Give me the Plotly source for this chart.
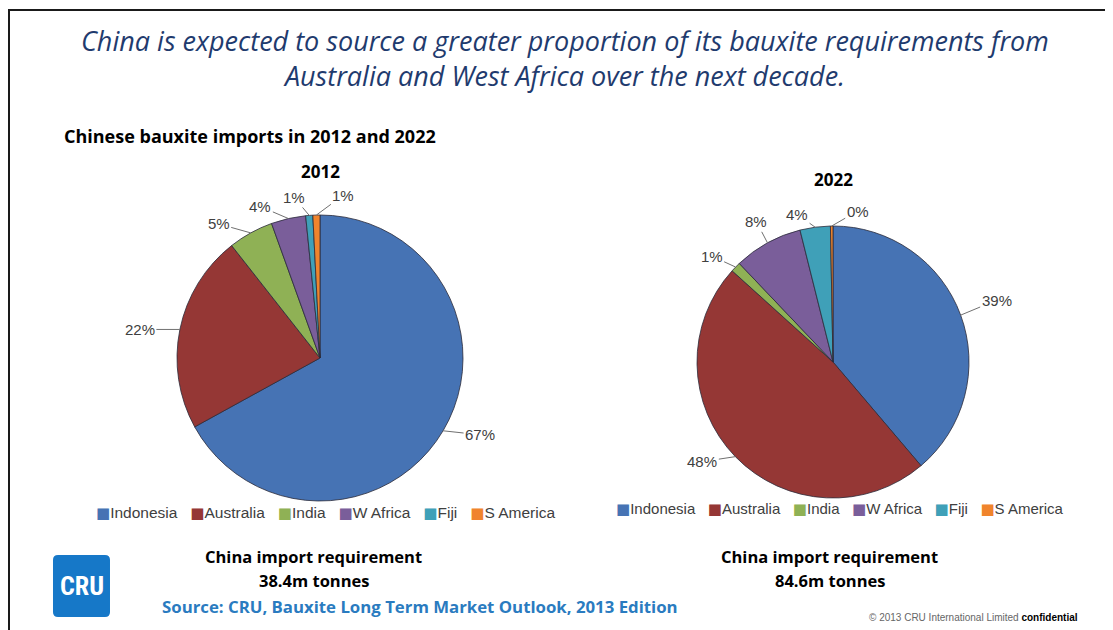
import math
import plotly.graph_objects as go

# ---------------- data ----------------
categories = ["Indonesia", "Australia", "India", "W Africa", "Fiji", "S America"]
share_2012 = [67.0, 22.4, 5.1, 3.9, 0.8, 0.8]
share_2022 = [38.8, 47.9, 1.2, 8.2, 3.6, 0.3]
req_2012 = "38.4m tonnes"
req_2022 = "84.6m tonnes"

colors = ["#4673B4", "#953735", "#8FB155", "#7A5E9A", "#3FA0B8", "#F0842C"]

W, H = 1113, 630
PAGE_OFF = 8  # default body margin of the html page


def X(px):
    return (px - PAGE_OFF) / W


def Y(py):
    return 1 - (py - PAGE_OFF) / H


# pie geometry (pixels on page): centre x, centre y, radius
P1 = (320, 358, 143)
P2 = (833, 362, 136)
# label offsets from slice edge (px) - style only
OFF1 = [(37, 4), (-40, 0), (-32, -9), (-28, -12), (-15, -18), (27, -20)]
OFF2 = [(36, -15), (-33, 5), (-24, -11), (-11, -21), (-18, -13), (26, -15)]


def domain(p):
    cx, cy, r = p
    return dict(x=[X(cx - r), X(cx + r)], y=[Y(cy + r), Y(cy - r)])


fig = go.Figure()
for vals, p in [(share_2012, P1), (share_2022, P2)]:
    fig.add_trace(go.Pie(
        labels=categories, values=vals, sort=False, direction="clockwise", rotation=0,
        marker=dict(colors=colors, line=dict(color="#2b2b3a", width=0.8)),
        textinfo="none", textposition="none", domain=domain(p), showlegend=False,
        hoverinfo="label+percent",
    ))

annotations = []
for vals, p, offs in [(share_2012, P1, OFF1), (share_2022, P2, OFF2)]:
    cx, cy, r = p
    tot = sum(vals)
    cum = 0.0
    for v, (ox, oy) in zip(vals, offs):
        mid = (cum + v / 2) / tot * 360.0
        cum += v
        tx = cx + r * math.sin(math.radians(mid))
        ty = cy - r * math.cos(math.radians(mid))
        annotations.append(dict(
            x=X(tx), y=Y(ty), xref="paper", yref="paper",
            ax=ox, ay=oy, text=f"{round(v / tot * 100)}%", showarrow=True,
            arrowhead=0, arrowwidth=1, arrowcolor="#707070", standoff=0,
            font=dict(family="Liberation Sans, Arial", size=15, color="#404040"),
        ))


def legend_text(gap):
    parts = []
    for c, n in zip(colors, categories):
        parts.append(f'<span style="color:{c};font-family:DejaVu Sans;font-size:15px">■</span>{n}')
    return ("\u00a0" * gap).join(parts)


def txt(x, y, text, size, color="#000000", family="Open Sans", xanchor="center", **kw):
    annotations.append(dict(x=X(x), y=Y(y), xref="paper", yref="paper", text=text,
                            showarrow=False, xanchor=xanchor, yanchor="middle",
                            font=dict(family=family, size=size, color=color), **kw))


# titles
txt(565, 58, "<i>China is expected to source a greater proportion of its bauxite requirements from"
             "<br>Australia and West Africa over the next decade.</i>", 27, "#1F3B6E")
txt(62, 136, "<b>Chinese bauxite imports in 2012 and 2022</b>", 18, xanchor="left")
txt(320, 172, "<b>2012</b>", 17)
txt(833, 180, "<b>2022</b>", 17)

# legends
txt(325, 513, legend_text(3), 15.5, "#404040", family="Liberation Sans, Arial")
txt(840, 509, legend_text(3), 15, "#404040", family="Liberation Sans, Arial")

# bottom texts
txt(313, 556, "<b>China import requirement</b>", 16.5)
txt(314, 580, f"<b>{req_2012}</b>", 16.5)
txt(829, 556, "<b>China import requirement</b>", 16.5)
txt(830, 580, f"<b>{req_2022}</b>", 16.5)
txt(160, 606, "<b>Source: CRU, Bauxite Long Term Market Outlook, 2013 Edition</b>", 16.8, "#2A7BC0", xanchor="left")
txt(1080, 617, '<span style="color:#666666">© 2013 CRU International Limited</span> <b>confidential</b>', 10,
    "#000000", family="Liberation Sans, Arial", xanchor="right")

# CRU logo text
txt(81.5, 586, "<b>CRU</b>", 26, "#FFFFFF", family="Liberation Sans Narrow, Roboto Condensed, Arial Narrow, Roboto")

shapes = []

# rounded rectangle logo (paper coords)
x0, x1, y0, y1, rr = 53, 110, 555, 617, 5


def P(x, y):
    return f"{X(x):.5f},{Y(y):.5f}"


logo_path = (f"M{P(x0 + rr, y0)} L{P(x1 - rr, y0)} Q{P(x1, y0)} {P(x1, y0 + rr)} "
             f"L{P(x1, y1 - rr)} Q{P(x1, y1)} {P(x1 - rr, y1)} L{P(x0 + rr, y1)} "
             f"Q{P(x0, y1)} {P(x0, y1 - rr)} L{P(x0, y0 + rr)} Q{P(x0, y0)} {P(x0 + rr, y0)} Z")
shapes.append(dict(type="path", xref="paper", yref="paper", path=logo_path,
                   fillcolor="#1678C8", line=dict(width=0), layer="below"))

# slide frame
shapes.append(dict(type="line", xref="paper", yref="paper", x0=X(7), x1=1, y0=Y(10), y1=Y(10),
                   line=dict(color="#1a1a1a", width=2)))
shapes.append(dict(type="line", xref="paper", yref="paper", x0=X(9), x1=X(9), y0=Y(10), y1=0,
                   line=dict(color="#1a1a1a", width=2)))

fig.update_layout(
    width=W, height=H, margin=dict(l=0, r=0, t=0, b=0),
    paper_bgcolor="white", plot_bgcolor="white",
    annotations=annotations, shapes=shapes, showlegend=False,
)

fig.write_html("out.html")
